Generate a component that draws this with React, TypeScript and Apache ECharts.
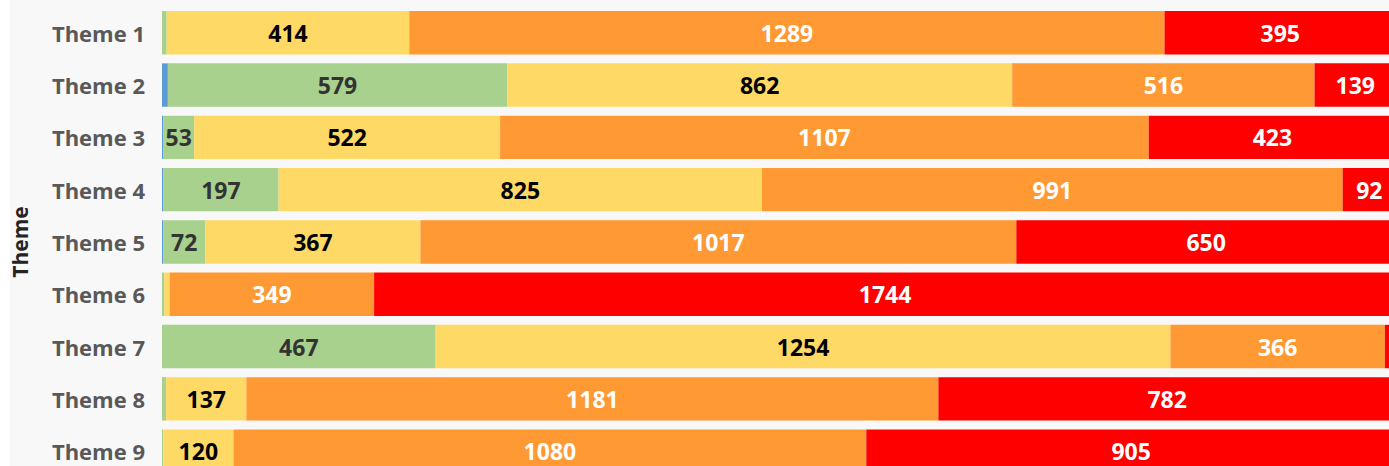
import React, { useEffect, useRef } from "react";
import * as echarts from "echarts";

const categories = ["Theme 1", "Theme 2", "Theme 3", "Theme 4", "Theme 5", "Theme 6", "Theme 7", "Theme 8", "Theme 9"];
const seriesNames = ["Level 1", "Level 2", "Level 3", "Level 4", "Level 5"];
const blueValues = [0, 10, 2, 2, 2, 0, 0, 0, 0];
const greenValues = [8, 579, 53, 197, 72, 4, 467, 7, 2];
const yellowValues = [414, 862, 522, 825, 367, 9, 1254, 137, 120];
const orangeValues = [1289, 516, 1107, 991, 1017, 349, 366, 1181, 1080];
const redValues = [395, 139, 423, 92, 650, 1744, 19, 782, 905];
const axisMax = 2106;
const axisTitle = "Theme";

const colors = ["#5b9bd5", "#a9d18e", "#ffd966", "#ff9933", "#ff0000"];
const labelColors = ["#252423", "#333333", "#000000", "#ffffff", "#ffffff"];

export default function App() {
  const ref = useRef<HTMLDivElement>(null);
  useEffect(() => {
    if (!ref.current) return;
    const chart = echarts.init(ref.current, undefined, { renderer: "svg" });
    const all = [blueValues, greenValues, yellowValues, orangeValues, redValues];
    chart.setOption({
      animation: false,
      backgroundColor: "transparent",
      grid: { left: 162, top: 6.6, width: 1234, height: 470.7, containLabel: false, outerBoundsMode: "none" },
      xAxis: { type: "value", min: 0, max: axisMax, show: false },
      yAxis: {
        type: "category",
        data: categories,
        inverse: true,
        axisLine: { show: false },
        axisTick: { show: false },
        axisLabel: {
          color: "#595959",
          fontWeight: "bold",
          fontSize: 22,
          fontFamily: "Open Sans",
          margin: 17,
        },
        name: axisTitle,
        nameLocation: "middle",
        nameRotate: 90,
        nameGap: 132,
        nameTextStyle: { color: "#252423", fontWeight: "bold", fontSize: 21, lineHeight: 21, fontFamily: "Open Sans" },
      },
      series: all.map((vals, i) => ({
        name: seriesNames[i],
        type: "bar",
        stack: "total",
        barCategoryGap: "17%",
        data: vals,
        itemStyle: { color: colors[i] },
        label: {
          show: true,
          position: "inside",
          color: labelColors[i],
          fontWeight: "bold",
          fontSize: 23,
          fontFamily: "Open Sans",
          formatter: (p: any) => (p.value >= 30 ? String(p.value) : ""),
        },
      })),
    });
    return () => chart.dispose();
  }, []);
  return (
    <div
      style={{ position: "absolute", left: 0, top: 0, width: 1389, height: 466, overflow: "hidden", background: "#ffffff" }}
    >
      <div style={{ position: "absolute", left: 10, top: 0, width: 1379, height: 466, background: "#f8f8f8" }} />
      <div ref={ref} style={{ position: "absolute", left: 0, top: 0, width: 1410, height: 490 }} />
    </div>
  );
}
